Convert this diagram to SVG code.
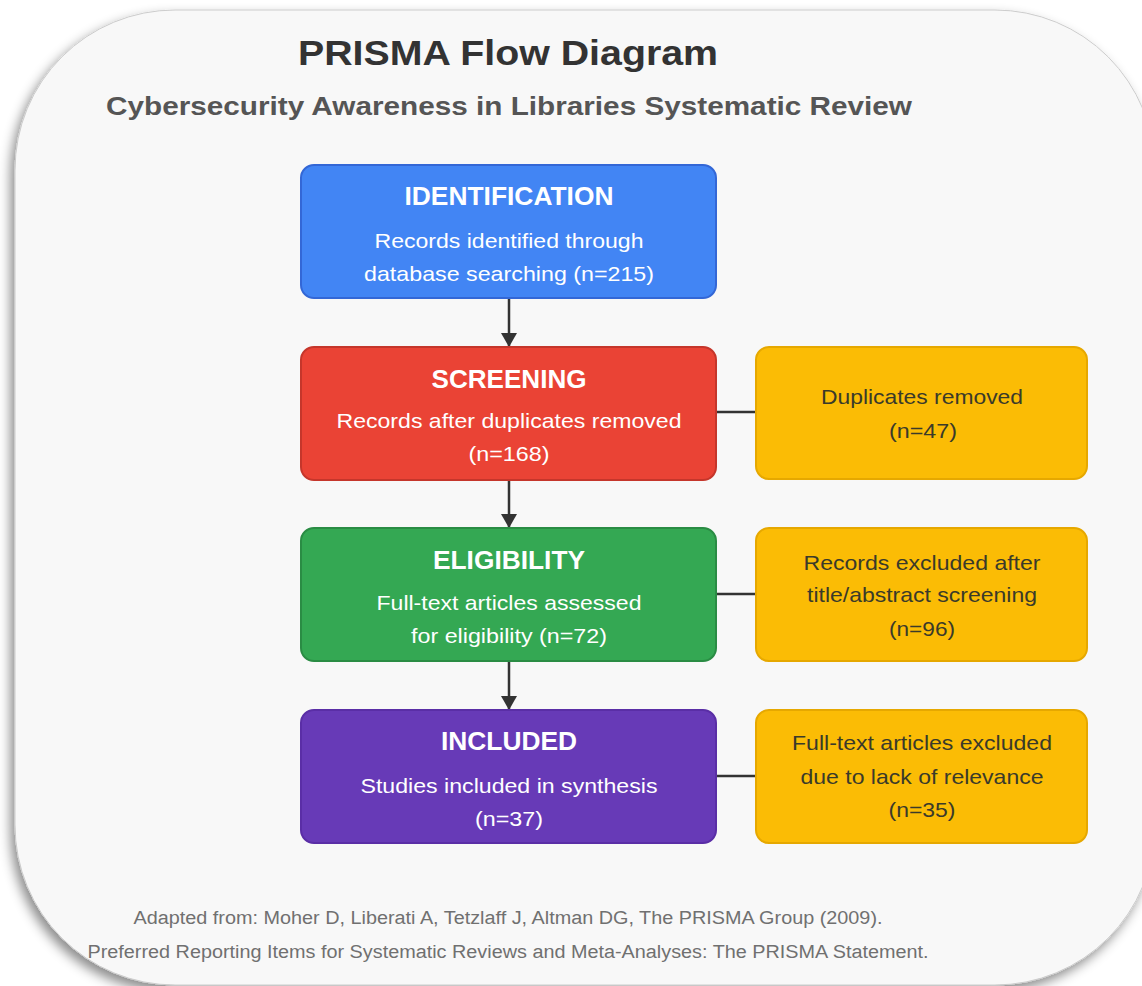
<svg xmlns="http://www.w3.org/2000/svg" width="1142" height="986" viewBox="0 0 1142 986">
<defs>
<filter id="sh" x="-10%" y="-10%" width="120%" height="120%">
<feDropShadow dx="-4" dy="6" stdDeviation="6" flood-color="#000" flood-opacity="0.45"/>
</filter>
<marker id="ah" markerWidth="14" markerHeight="16" refX="13" refY="8" orient="auto" markerUnits="userSpaceOnUse" viewBox="0 0 14 16">
<path d="M0,0 L14,8 L0,16 z" fill="#333"/>
</marker>
</defs>
<style>
.t{font-family:"Liberation Sans",Arial,sans-serif;text-anchor:middle}
.h{font-size:25px;font-weight:bold;fill:#fff}
.w{font-size:21px;fill:#fff}
.y{font-size:21px;fill:#3a3a2a}
.f{font-size:18px;fill:#707070}
.main{stroke-width:2}
.side{fill:#fbbc05;stroke:#e6a800;stroke-width:2}
.c{stroke:#333;stroke-width:2.5;fill:none}
</style>
<rect width="1142" height="986" fill="#fff"/>
<rect x="15" y="10" width="1140" height="975" rx="160" ry="160" fill="#f8f8f8" stroke="#ccc" stroke-width="1" filter="url(#sh)"/>
<text class="t" x="508" y="65" font-size="35" font-weight="bold" fill="#333" textLength="420" lengthAdjust="spacingAndGlyphs">PRISMA Flow Diagram</text>
<text class="t" x="509" y="115" font-size="26" font-weight="bold" fill="#555" textLength="806" lengthAdjust="spacingAndGlyphs">Cybersecurity Awareness in Libraries Systematic Review</text>
<g id="connectors">
<line class="c" x1="509" y1="298" x2="509" y2="346" marker-end="url(#ah)"/>
<line class="c" x1="509" y1="480" x2="509" y2="527" marker-end="url(#ah)"/>
<line class="c" x1="509" y1="661" x2="509" y2="709" marker-end="url(#ah)"/>
<line class="c" x1="716" y1="412" x2="756" y2="412"/>
<line class="c" x1="716" y1="594" x2="756" y2="594"/>
<line class="c" x1="716" y1="776" x2="756" y2="776"/>
</g>
<g id="identification">
<rect class="main" x="301" y="165" width="415" height="133" rx="13" fill="#4285f4" stroke="#3367d6"/>
<text class="t h" x="509" y="205" textLength="209" lengthAdjust="spacingAndGlyphs">IDENTIFICATION</text>
<text class="t w" x="509" y="248" textLength="269" lengthAdjust="spacingAndGlyphs">Records identified through</text>
<text class="t w" x="509" y="281" textLength="290" lengthAdjust="spacingAndGlyphs">database searching (n=215)</text>
</g>
<g id="screening">
<rect class="main" x="301" y="347" width="415" height="133" rx="13" fill="#ea4335" stroke="#c5362b"/>
<text class="t h" x="509" y="388" textLength="155" lengthAdjust="spacingAndGlyphs">SCREENING</text>
<text class="t w" x="509" y="428" textLength="345" lengthAdjust="spacingAndGlyphs">Records after duplicates removed</text>
<text class="t w" x="509" y="461" textLength="81" lengthAdjust="spacingAndGlyphs">(n=168)</text>
</g>
<g id="eligibility">
<rect class="main" x="301" y="528" width="415" height="133" rx="13" fill="#34a853" stroke="#2a8c44"/>
<text class="t h" x="509" y="569" textLength="152" lengthAdjust="spacingAndGlyphs">ELIGIBILITY</text>
<text class="t w" x="509" y="610" textLength="265" lengthAdjust="spacingAndGlyphs">Full-text articles assessed</text>
<text class="t w" x="509" y="643" textLength="196" lengthAdjust="spacingAndGlyphs">for eligibility (n=72)</text>
</g>
<g id="included">
<rect class="main" x="301" y="710" width="415" height="133" rx="13" fill="#673ab7" stroke="#5a2ea6"/>
<text class="t h" x="509" y="750" textLength="136" lengthAdjust="spacingAndGlyphs">INCLUDED</text>
<text class="t w" x="509" y="793" textLength="297" lengthAdjust="spacingAndGlyphs">Studies included in synthesis</text>
<text class="t w" x="509" y="826" textLength="68" lengthAdjust="spacingAndGlyphs">(n=37)</text>
</g>
<g id="duplicates">
<rect class="side" x="756" y="347" width="331" height="132" rx="13"/>
<text class="t y" x="922" y="404" textLength="202" lengthAdjust="spacingAndGlyphs">Duplicates removed</text>
<text class="t y" x="923" y="438" textLength="68" lengthAdjust="spacingAndGlyphs">(n=47)</text>
</g>
<g id="excluded-screening">
<rect class="side" x="756" y="528" width="331" height="133" rx="13"/>
<text class="t y" x="922" y="570" textLength="237" lengthAdjust="spacingAndGlyphs">Records excluded after</text>
<text class="t y" x="922" y="602" textLength="230" lengthAdjust="spacingAndGlyphs">title/abstract screening</text>
<text class="t y" x="922" y="636" textLength="66" lengthAdjust="spacingAndGlyphs">(n=96)</text>
</g>
<g id="excluded-fulltext">
<rect class="side" x="756" y="710" width="331" height="133" rx="13"/>
<text class="t y" x="922" y="750" textLength="260" lengthAdjust="spacingAndGlyphs">Full-text articles excluded</text>
<text class="t y" x="922" y="784" textLength="243" lengthAdjust="spacingAndGlyphs">due to lack of relevance</text>
<text class="t y" x="922" y="817" textLength="67" lengthAdjust="spacingAndGlyphs">(n=35)</text>
</g>
<text class="t f" x="508" y="924" textLength="749" lengthAdjust="spacingAndGlyphs">Adapted from: Moher D, Liberati A, Tetzlaff J, Altman DG, The PRISMA Group (2009).</text>
<text class="t f" x="508" y="958" textLength="841" lengthAdjust="spacingAndGlyphs">Preferred Reporting Items for Systematic Reviews and Meta-Analyses: The PRISMA Statement.</text>
</svg>
